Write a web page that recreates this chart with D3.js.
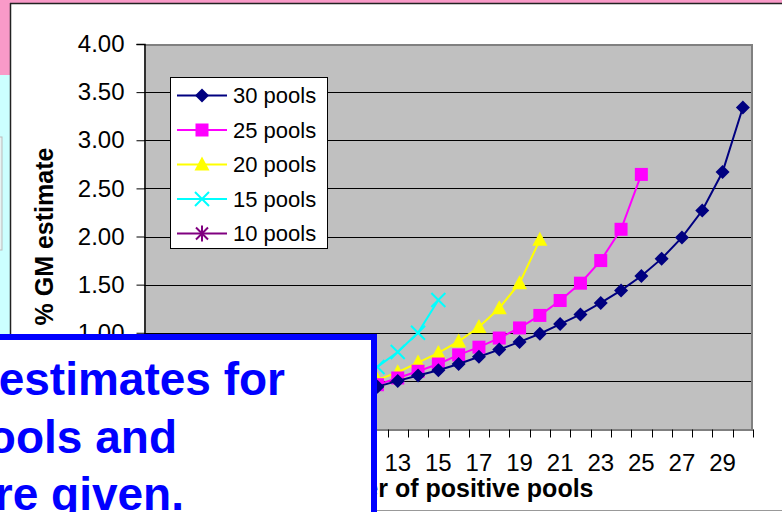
<!DOCTYPE html>
<html>
<head>
<meta charset="utf-8">
<script src="https://cdn.jsdelivr.net/npm/d3@7"></script>
<style>
  body { margin: 0; background: #fff; }
  svg { display: block; font-family: "Liberation Sans", Arial, sans-serif; }
</style>
</head>
<body>
<svg id="chart" width="782" height="512"></svg>
<script>
// number of positive pools
var categories = d3.range(1, 31);
var xTickLabels = [1, 3, 5, 7, 9, 11, 13, 15, 17, 19, 21, 23, 25, 27, 29];
var yTicks = [0, 0.5, 1, 1.5, 2, 2.5, 3, 3.5, 4];

var pools30 = [0.03, 0.07, 0.10, 0.14, 0.17, 0.21, 0.24, 0.28, 0.32, 0.35, 0.39, 0.44,
               0.50, 0.555, 0.61, 0.675, 0.75, 0.825, 0.905, 0.99, 1.09, 1.19, 1.31,
               1.44, 1.59, 1.77, 1.99, 2.27, 2.67, 3.34];
var pools25 = [0.04, 0.08, 0.12, 0.15, 0.19, 0.23, 0.27, 0.30, 0.34, 0.38, 0.42, 0.46,
               0.53, 0.60, 0.675, 0.77, 0.85, 0.945, 1.05, 1.18, 1.335, 1.515, 1.75,
               2.075, 2.645];
var pools20 = [0.05, 0.10, 0.14, 0.18, 0.22, 0.26, 0.30, 0.34, 0.38, 0.42, 0.46, 0.51,
               0.59, 0.69, 0.79, 0.91, 1.06, 1.255, 1.515, 1.965];
var pools15 = [0.06, 0.12, 0.17, 0.21, 0.26, 0.30, 0.35, 0.40, 0.45, 0.51, 0.57, 0.645,
               0.80, 1.00, 1.34];
var pools10 = [0.09, 0.18, 0.25, 0.32, 0.38, 0.44, 0.50, 0.56, 0.63, 0.74];

var seriesNames = ["30 pools", "25 pools", "20 pools", "15 pools", "10 pools"];
var seriesValues = [pools30, pools25, pools20, pools15, pools10];
var colors = ["#000080", "#FF00FF", "#FFFF00", "#00FFFF", "#800080"];
var shapes = ["diamond", "square", "triangle", "x", "star"];

var svg = d3.select("#chart");

// slide bits around the chart object
svg.append("rect").attr("x", 0).attr("y", 0).attr("width", 782).attr("height", 3).attr("fill", "#F99AC8");
svg.append("rect").attr("x", 0).attr("y", 0).attr("width", 10).attr("height", 75).attr("fill", "#F99AC8");
svg.append("rect").attr("x", 0).attr("y", 75).attr("width", 10).attr("height", 265).attr("fill", "#CCFFFF");
svg.append("rect").attr("x", -6).attr("y", 137).attr("width", 8).attr("height", 113)
  .attr("fill", "#E6F4F4").attr("stroke", "#BBBBBB");
svg.append("line").attr("x1", 10).attr("x2", 782).attr("y1", 3.5).attr("y2", 3.5)
  .attr("stroke", "#222").attr("stroke-width", 1.5);
svg.append("line").attr("x1", 10.5).attr("x2", 10.5).attr("y1", 3).attr("y2", 512)
  .attr("stroke", "#222").attr("stroke-width", 1.5);
svg.append("line").attr("x1", 10).attr("x2", 782).attr("y1", 510.5).attr("y2", 510.5)
  .attr("stroke", "#999").attr("stroke-width", 1);

var plot = {left: 144, right: 753, top: 44, bottom: 429};

var x = d3.scaleBand().domain(categories).range([plot.left, plot.right]).padding(0);
var y = d3.scaleLinear().domain([0, 4]).range([plot.bottom, plot.top]);
var cx = function(k) { return x(k) + x.bandwidth() / 2; };

// plot area
svg.append("rect")
  .attr("x", plot.left).attr("y", plot.top)
  .attr("width", plot.right - plot.left).attr("height", plot.bottom - plot.top)
  .attr("fill", "#C0C0C0");

svg.append("g").selectAll("line")
  .data(yTicks.filter(function(d) { return d > 0 && d < 4; }))
  .enter().append("line")
  .attr("x1", plot.left).attr("x2", plot.right)
  .attr("y1", function(d) { return Math.round(y(d)) + 0.5; })
  .attr("y2", function(d) { return Math.round(y(d)) + 0.5; })
  .attr("stroke", "#000").attr("stroke-width", 1);

svg.append("path")
  .attr("d", "M" + plot.left + "," + (plot.top + 1) + "H" + (plot.right - 1) + "V" + plot.bottom)
  .attr("fill", "none").attr("stroke", "#808080").attr("stroke-width", 2);

// y axis
var yAxis = svg.append("g")
  .attr("transform", "translate(" + (plot.left + 0.5) + ",0)")
  .call(d3.axisLeft(y).tickValues(yTicks).tickFormat(d3.format(".2f")).tickSize(8).tickPadding(12));
yAxis.select(".domain").attr("stroke", "#000").attr("stroke-width", 1.5);
yAxis.selectAll(".tick line").attr("stroke", "#000");
yAxis.selectAll("text").attr("font-size", 24).attr("fill", "#000")
  .attr("font-family", "Liberation Sans, Arial, sans-serif");

// x axis
var xAxis = svg.append("g")
  .attr("transform", "translate(0," + (plot.bottom + 0.5) + ")")
  .call(d3.axisBottom(x).tickValues(xTickLabels).tickSize(0).tickPadding(24));
xAxis.select(".domain").attr("stroke", "#000").attr("stroke-width", 1);
xAxis.selectAll("text").attr("font-size", 24).attr("fill", "#000")
  .attr("font-family", "Liberation Sans, Arial, sans-serif");

var bounds = categories.map(function(k) { return x(k); }).concat([plot.right]);
xAxis.selectAll(".cat-tick").data(bounds).enter().append("line")
  .attr("class", "cat-tick")
  .attr("x1", function(d) { return Math.round(d) + 0.5; })
  .attr("x2", function(d) { return Math.round(d) + 0.5; })
  .attr("y1", 0).attr("y2", 8)
  .attr("stroke", "#000");

// axis titles
svg.append("text")
  .attr("transform", "translate(53," + ((plot.top + plot.bottom) / 2) + ") rotate(-90)")
  .attr("text-anchor", "middle")
  .attr("font-size", 25).attr("font-weight", "bold")
  .text("% GM estimate");

svg.append("text")
  .attr("x", 443.5).attr("y", 497)
  .attr("text-anchor", "middle")
  .attr("font-size", 25).attr("font-weight", "bold")
  .text("Number of positive pools");

// markers
function marker(sel, shape, color) {
  if (shape === "diamond") {
    sel.append("path").attr("d", "M0,-7L7,0L0,7L-7,0Z").attr("fill", color);
  } else if (shape === "square") {
    sel.append("rect").attr("x", -6.5).attr("y", -6.5).attr("width", 13).attr("height", 13).attr("fill", color);
  } else if (shape === "triangle") {
    sel.append("path").attr("d", "M0,-8L7.5,6L-7.5,6Z").attr("fill", color);
  } else if (shape === "x") {
    sel.append("path").attr("d", "M-7,-7L7,7M7,-7L-7,7").attr("stroke", color).attr("stroke-width", 2);
  } else {
    sel.append("path").attr("d", "M-6,-6L6,6M6,-6L-6,6M0,-8V8").attr("stroke", color).attr("stroke-width", 2);
  }
}

var line = d3.line()
  .x(function(d, i) { return cx(i + 1); })
  .y(function(d) { return y(d); });

// draw 10 pools first so 30 pools ends on top of the stack order seen
for (var s = seriesValues.length - 1; s >= 0; s--) {
  var g = svg.append("g").attr("class", "series");
  g.append("path")
    .datum(seriesValues[s])
    .attr("d", line)
    .attr("fill", "none")
    .attr("stroke", colors[s])
    .attr("stroke-width", 2);
  g.selectAll(".pt")
    .data(seriesValues[s])
    .enter().append("g")
    .attr("class", "pt")
    .attr("transform", function(d, i) { return "translate(" + cx(i + 1) + "," + y(d) + ")"; })
    .each(function() { marker(d3.select(this), shapes[s], colors[s]); });
}

// legend
var legend = svg.append("g");
legend.append("rect")
  .attr("x", 170.5).attr("y", 77.5).attr("width", 157).attr("height", 171)
  .attr("fill", "#fff").attr("stroke", "#000").attr("stroke-width", 1);
var item = legend.selectAll(".item")
  .data(seriesNames)
  .enter().append("g")
  .attr("class", "item")
  .attr("transform", function(d, i) { return "translate(0," + (95.5 + i * 34.5) + ")"; });
item.append("line")
  .attr("x1", 177).attr("x2", 227)
  .attr("stroke", function(d, i) { return colors[i]; })
  .attr("stroke-width", 2);
item.each(function(d, i) {
  marker(d3.select(this).append("g").attr("transform", "translate(202,0)"), shapes[i], colors[i]);
});
item.append("text")
  .attr("x", 233).attr("dy", "0.36em")
  .attr("font-size", 22)
  .text(function(d) { return d; });

// overlapping slide text box
svg.append("rect")
  .attr("x", -20).attr("y", 337).attr("width", 394).attr("height", 220)
  .attr("fill", "#fff").attr("stroke", "#0000FF").attr("stroke-width", 6);
var boxLines = [
  {t: "estimates for", x: 285, y: 395},
  {t: "pools and", x: 177, y: 452.5},
  {t: "are given.", x: 184, y: 510}
];
svg.selectAll(".boxline")
  .data(boxLines)
  .enter().append("text")
  .attr("class", "boxline")
  .attr("x", function(d) { return d.x; })
  .attr("y", function(d) { return d.y; })
  .attr("text-anchor", "end")
  .attr("font-size", 46).attr("font-weight", "bold")
  .attr("fill", "#0000FF")
  .text(function(d) { return d.t; });
</script>
</body>
</html>
